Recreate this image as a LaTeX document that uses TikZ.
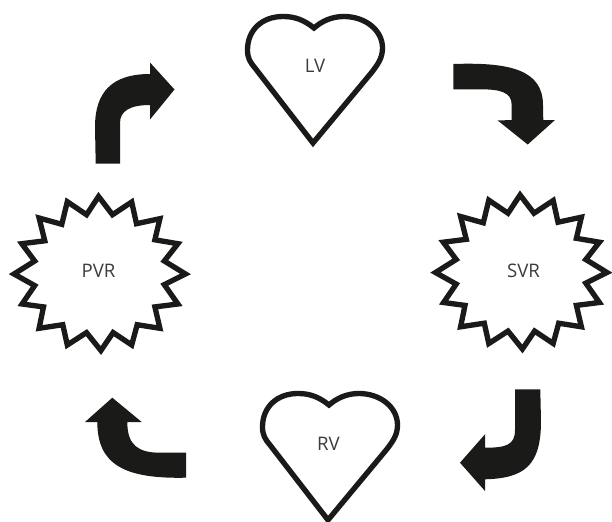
\documentclass[tikz,border=0pt]{standalone}
\usepackage{fontspec}
\setmainfont{Open Sans}
\definecolor{inkblack}{HTML}{1A1A18}
\tikzset{
    outline/.style={draw=inkblack,line width=4pt,line join=miter},
    organ/.style={text=inkblack!85,font=\fontsize{14}{16}\selectfont},
    flow/.style={fill=inkblack,draw=none},
    heartshape/.pic={
        \draw[outline] (314,28) .. controls (304,20) and (295,16.5) .. (283,16.5)
            .. controls (262,16.5) and (247.5,30) .. (247.5,50)
            .. controls (247.5,58) and (250,62) .. (255,68)
            -- (313,143) -- (372,72)
            .. controls (378,64) and (382.5,58) .. (382.5,48)
            .. controls (382.5,30) and (365,16.5) .. (344,16.5)
            .. controls (332,16.5) and (322,21) .. (314,28) -- cycle;
    },
    burstshape/.pic={
        \draw[outline] (98.6,196.5) -- (112.5,214.7) -- (131.7,202) -- (136.5,223.7)
            -- (159.9,218.7) -- (154.9,239.8) -- (177.9,243.7) -- (164.3,261)
            -- (185.5,274) -- (164.3,284.6) -- (177.9,304) -- (154.9,306.9)
            -- (159.9,328.3) -- (137.2,324.7) -- (131.7,345) -- (113.1,332.6)
            -- (100.9,350.5) -- (86.5,332.6) -- (67.3,345) -- (62.8,324.7)
            -- (39.1,328.3) -- (43.5,306.9) -- (22.1,304) -- (34.7,285.6)
            -- (14,274) -- (34.7,261) -- (21.8,243.7) -- (44.8,240.8)
            -- (39.1,218) -- (61.8,224.3) -- (67.3,201.7) -- (86.5,214.7) -- cycle;
    }
}
\begin{document}
\begin{tikzpicture}[x=0.75pt,y=-0.75pt]
    \useasboundingbox (0,0) rectangle (612,522);

    % Hearts
    \pic at (0,0) {heartshape};
    \pic at (15,377) {heartshape};
    \node[organ] (lv) at (315,65.5) {LV};
    \node[organ] (rv) at (328.5,444) {RV};

    % Resistances
    \pic at (0,0) {burstshape};
    \pic at (421.5,-1.5) {burstshape};
    \node[organ] (pvr) at (98.5,271) {PVR};
    \node[organ] (svr) at (523.5,271) {SVR};

    % Arrows round the loop
    \fill[flow] (95.7,163.5) -- (120,163.5) -- (120,123)
        .. controls (120,111) and (130,105) .. (150,105)
        -- (150,119.5) -- (174.5,89.5) -- (150,62.5) -- (150,74)
        .. controls (112,74) and (95,92) .. (95,127) -- cycle;

    \fill[flow] (453.3,64) .. controls (510,62) and (543,70) .. (543,105)
        -- (543.3,120) -- (555,120) -- (527.7,144.5) -- (497.7,120.5) -- (511.7,120)
        -- (511.7,105) .. controls (511.7,92) and (500,89.3) .. (480,89.3)
        -- (453.3,89.3) -- cycle;

    \fill[flow] (515,389.3) -- (540.3,389.3) -- (541,421)
        .. controls (541,465) and (525,478.3) .. (485,479.3)
        -- (485,491) -- (460,462.7) -- (485,434.3) -- (485,447.7)
        .. controls (506,447.7) and (515,445) .. (515,430) -- cycle;

    \fill[flow] (186,452.7) -- (186,477.7)
        .. controls (125,479) and (97.3,465) .. (97.3,422)
        -- (85,422) -- (112.3,397.7) -- (141.7,422) -- (127.3,422)
        .. controls (127.3,445) and (138,452.7) .. (160,452.7) -- cycle;
\end{tikzpicture}
\end{document}
